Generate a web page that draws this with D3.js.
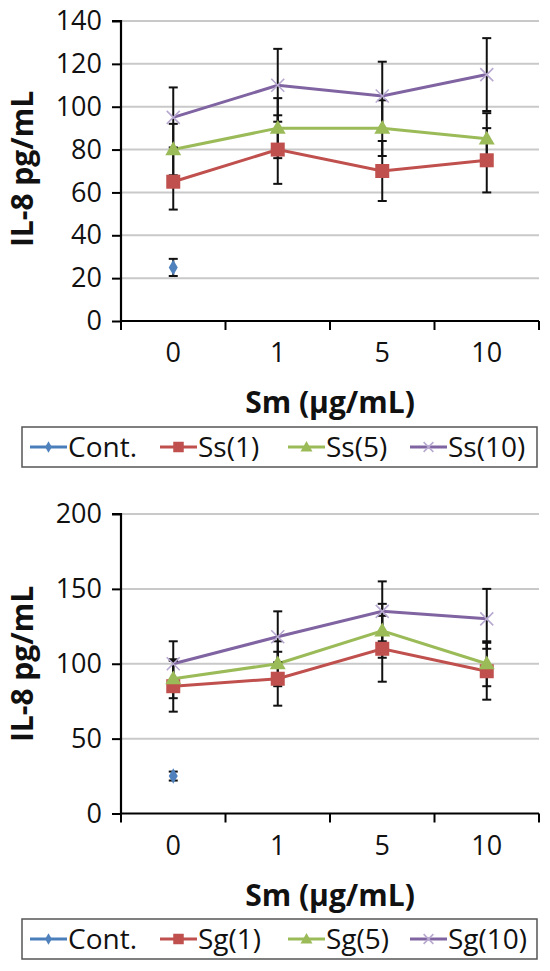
<!DOCTYPE html>
<html><head><meta charset="utf-8">
<script src="https://cdn.jsdelivr.net/npm/d3@7"></script>
<style>body{margin:0;background:#fff}svg{display:block}</style>
</head><body>
<svg id="c" width="550" height="971"></svg>
<script>
// ---- data ----
const categories = ["0", "1", "5", "10"];

const topSeriesNames = ["Cont.", "Ss(1)", "Ss(5)", "Ss(10)"];
const topCont = [25];
const topContErr = [4];
const topSs1 = [65, 80, 70, 75];
const topSs1Err = [13, 16, 14, 15];
const topSs5 = [80, 90, 90, 85];
const topSs5Err = [12, 14, 13, 12];
const topSs10 = [95, 110, 105, 115];
const topSs10Err = [14, 17, 16, 17];
const topYTicks = [0, 20, 40, 60, 80, 100, 120, 140];

const botSeriesNames = ["Cont.", "Sg(1)", "Sg(5)", "Sg(10)"];
const botCont = [25];
const botContErr = [3];
const botSg1 = [85, 90, 110, 95];
const botSg1Err = [17, 18, 22, 19];
const botSg5 = [90, 100, 122, 100];
const botSg5Err = [13, 15, 18, 15];
const botSg10 = [100, 118, 135, 130];
const botSg10Err = [15, 17, 20, 20];
const botYTicks = [0, 50, 100, 150, 200];

const yTitle = "IL-8 pg/mL";
const xTitle = "Sm (µg/mL)";

// ---- styles ----
const FONT = "'Open Sans', sans-serif";
const colors = ["#4A7EBB", "#C0504D", "#9BBB59", "#8064A2"];
const markerColors = ["#4F81BD", "#C0504D", "#9BBB59", "#B8A9D0"];
const shapes = ["diamond", "square", "triangle", "x"];

const svg = d3.select("#c");

function marker(g, shape, x, y, i, k) {
  const c = markerColors[i];
  if (shape === "diamond") {
    g.append("path").attr("d", d3.symbol(d3.symbolDiamond, 70 * k * k)())
      .attr("transform", `translate(${x},${y})`).attr("fill", c);
  } else if (shape === "square") {
    const s = 14 * k;
    g.append("rect").attr("x", x - s / 2).attr("y", y - s / 2).attr("width", s).attr("height", s).attr("fill", c);
  } else if (shape === "triangle") {
    g.append("path").attr("d", d3.symbol(d3.symbolTriangle, 110 * k * k)())
      .attr("transform", `translate(${x},${y + 1})`).attr("fill", c);
  } else {
    const r = 6.5 * k;
    g.append("path").attr("d", `M${x-r},${y-r}L${x+r},${y+r}M${x-r},${y+r}L${x+r},${y-r}`)
      .attr("stroke", c).attr("stroke-width", 1.6).attr("fill", "none");
  }
}

function drawChart(opt) {
  const g = svg.append("g");
  const x = d3.scaleBand().domain(categories).range([121, 539]);
  const y = d3.scaleLinear().domain([0, opt.yMax]).range([opt.y0, opt.yTop]);

  // gridlines
  g.selectAll(".grid").data(opt.yTicks.filter(d => d > 0)).join("line")
    .attr("x1", 121).attr("x2", 539).attr("y1", d => y(d)).attr("y2", d => y(d))
    .attr("stroke", "#c9c9c9").attr("stroke-width", 2);

  // y axis
  const ya = g.append("g").attr("transform", "translate(121,0)")
    .call(d3.axisLeft(y).tickValues(opt.yTicks).tickSize(9).tickPadding(10));
  ya.select(".domain").attr("stroke", "#000").attr("stroke-width", 2.2).attr("d", `M-9,${opt.yTop}H0V${opt.y0}`);
  ya.selectAll(".tick line").attr("stroke", "#000").attr("stroke-width", 2);
  ya.selectAll(".tick text").attr("font-family", FONT).attr("font-size", 27).attr("fill", "#111");

  // x axis
  const xa = g.append("g").attr("transform", `translate(0,${opt.y0})`)
    .call(d3.axisBottom(x).tickSize(0).tickPadding(22));
  xa.select(".domain").attr("stroke", "#000").attr("stroke-width", 2.2).attr("d", `M121,0H539`);
  xa.selectAll(".tick text").attr("font-family", FONT).attr("font-size", 27).attr("fill", "#111");
  const bounds = categories.map(c => x(c)).concat([x.range()[1]]);
  g.selectAll(".xt").data(bounds).join("line")
    .attr("x1", d => d).attr("x2", d => d).attr("y1", opt.y0).attr("y2", opt.y0 + 9)
    .attr("stroke", "#000").attr("stroke-width", 2);

  // titles
  g.append("text").attr("x", 330).attr("y", opt.y0 + 92).attr("text-anchor", "middle")
    .attr("font-family", FONT).attr("font-weight", "bold").attr("font-size", 30).attr("fill", "#111").text(xTitle);
  g.append("text").attr("transform", `translate(33,${opt.yTitleY}) rotate(-90)`).attr("text-anchor", "middle")
    .attr("font-family", FONT).attr("font-weight", "bold").attr("font-size", 30).attr("fill", "#111").text(yTitle);

  const cx = c => x(c) + x.bandwidth() / 2;
  const series = opt.series;

  // lines
  const line = d3.line().x((d, i) => cx(categories[i])).y(d => y(d));
  series.forEach((s, i) => {
    if (s.values.length > 1)
      g.append("path").attr("d", line(s.values)).attr("fill", "none")
        .attr("stroke", colors[i]).attr("stroke-width", 3);
  });
  // error bars
  series.forEach(s => {
    s.values.forEach((v, j) => {
      const px = cx(categories[j]), e = s.err[j];
      g.append("line").attr("x1", px).attr("x2", px).attr("y1", y(v - e)).attr("y2", y(v + e))
        .attr("stroke", "#111").attr("stroke-width", 2);
      [v - e, v + e].forEach(t => g.append("line").attr("x1", px - 4.5).attr("x2", px + 4.5)
        .attr("y1", y(t)).attr("y2", y(t)).attr("stroke", "#111").attr("stroke-width", 2));
    });
  });
  // markers
  series.forEach((s, i) => {
    s.values.forEach((v, j) => marker(g, shapes[i], cx(categories[j]), y(v), i, 1));
  });

  // legend
  const lg = g.append("g");
  lg.append("rect").attr("x", 22).attr("y", opt.legendY).attr("width", 515).attr("height", 40)
    .attr("fill", "#fff").attr("stroke", "#555").attr("stroke-width", 1.5);
  const itemX = [30, 160, 288, 410];
  opt.names.forEach((n, i) => {
    const lx = itemX[i], ly = opt.legendY + 20;
    lg.append("line").attr("x1", lx).attr("x2", lx + 37).attr("y1", ly).attr("y2", ly)
      .attr("stroke", colors[i]).attr("stroke-width", 2.8);
    marker(lg, shapes[i], lx + 18.5, ly, i, 0.75);
    lg.append("text").attr("x", lx + 38).attr("y", ly + 10).attr("font-family", FONT)
      .attr("font-size", 28).attr("fill", "#111").text(n);
  });
}

drawChart({
  yMax: 140, y0: 321, yTop: 21, yTicks: topYTicks, yTitleY: 169, legendY: 427,
  names: topSeriesNames,
  series: [
    {values: topCont, err: topContErr},
    {values: topSs1, err: topSs1Err},
    {values: topSs5, err: topSs5Err},
    {values: topSs10, err: topSs10Err}
  ]
});
drawChart({
  yMax: 200, y0: 813.5, yTop: 514, yTicks: botYTicks, yTitleY: 664, legendY: 919,
  names: botSeriesNames,
  series: [
    {values: botCont, err: botContErr},
    {values: botSg1, err: botSg1Err},
    {values: botSg5, err: botSg5Err},
    {values: botSg10, err: botSg10Err}
  ]
});
</script>
</body></html>
